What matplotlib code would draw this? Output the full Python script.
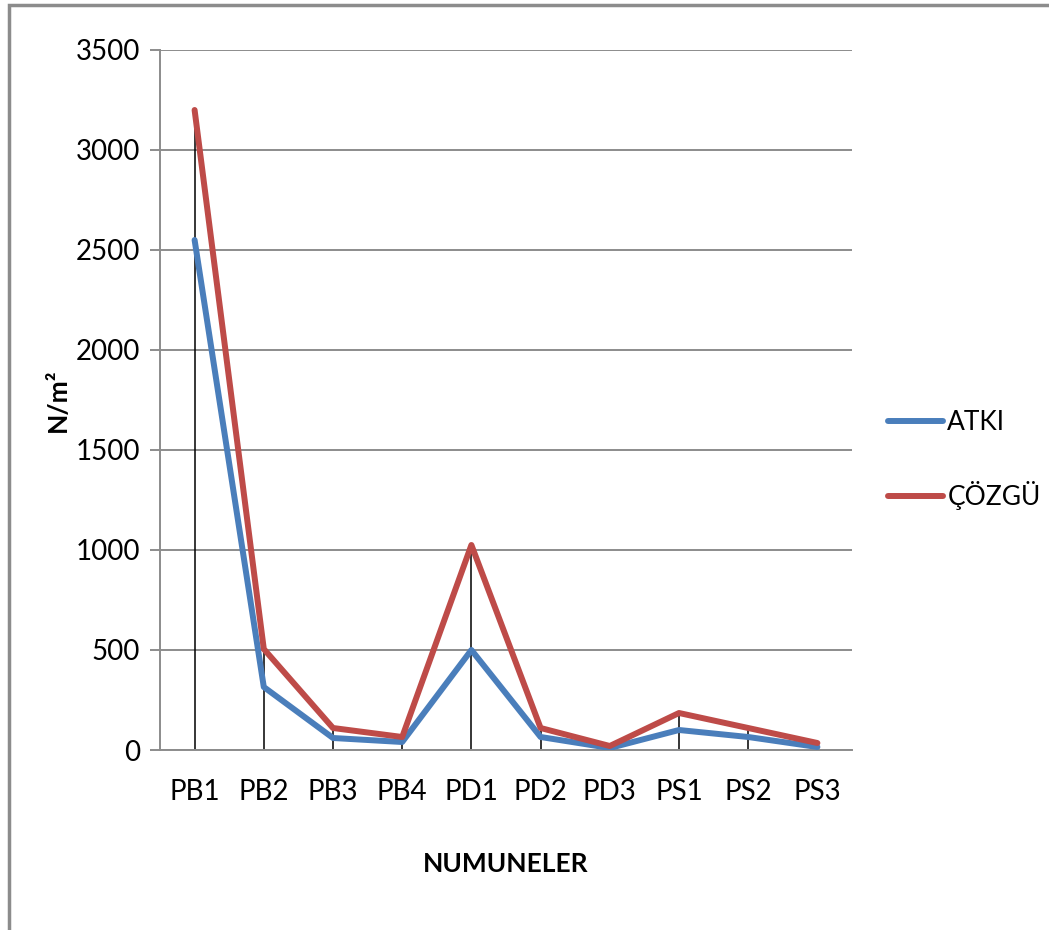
import matplotlib.pyplot as plt
from matplotlib.patches import Rectangle

plt.rcParams['font.family'] = ['Lato', 'DejaVu Sans']

samples = ['PB1', 'PB2', 'PB3', 'PB4', 'PD1', 'PD2', 'PD3', 'PS1', 'PS2', 'PS3']
atki = [2550, 315, 60, 40, 500, 65, 10, 100, 65, 15]
cozgu = [3200, 505, 110, 65, 1025, 110, 20, 185, 110, 35]

fig = plt.figure(figsize=(10.49, 9.30), dpi=100)
ax = fig.add_axes([160/1049, 180/930, 692/1049, 700/930])

x = list(range(len(samples)))
top = [max(a, c) for a, c in zip(atki, cozgu)]
ax.vlines(x, 0, top, color='black', lw=1.1, zorder=2)
ax.plot(x, atki, color='#4A7EBB', lw=4.3, label='ATKI', zorder=3, solid_capstyle='round')
ax.plot(x, cozgu, color='#BE4B48', lw=4.3, label='ÇÖZGÜ', zorder=3, solid_capstyle='round')

ax.set_xlim(-0.5, len(samples) - 0.5)
ax.set_ylim(0, 3500)
ax.set_yticks(range(0, 3501, 500))
ax.set_xticks(x)
ax.set_xticklabels(samples)
ax.yaxis.grid(True, color='#8c8c8c', lw=1.4)
ax.set_axisbelow(True)
for s in ['top', 'right']:
    ax.spines[s].set_visible(False)
ax.spines['left'].set_color('#8c8c8c')
ax.spines['bottom'].set_color('#8c8c8c')
ax.spines['left'].set_linewidth(1.4)
ax.spines['bottom'].set_linewidth(1.4)
ax.tick_params(axis='y', length=7.2, width=1.4, color='#8c8c8c', labelsize=20, pad=7)
ax.tick_params(axis='x', length=0, labelsize=20, pad=21)

ax.set_ylabel('N/m²', fontsize=19, fontweight='bold')
ax.yaxis.set_label_coords(-0.13, 0.5)
ax.set_xlabel('NUMUNELER', fontsize=19, fontweight='bold')
ax.xaxis.set_label_coords(0.5, -0.145)

ax.legend(loc='center left', bbox_to_anchor=(888/1049, 470/930), bbox_transform=fig.transFigure,
          frameon=False, borderaxespad=0, borderpad=0, fontsize=19,
          handlelength=2.1, handletextpad=0.15, labelspacing=1.75)

fig.patches.append(Rectangle((9/1049, -0.1), 1.2, 0.1 + 925/930, transform=fig.transFigure,
                             fill=False, edgecolor='#8c8c8c', lw=2.5))

fig.savefig('out.png', dpi=100)
